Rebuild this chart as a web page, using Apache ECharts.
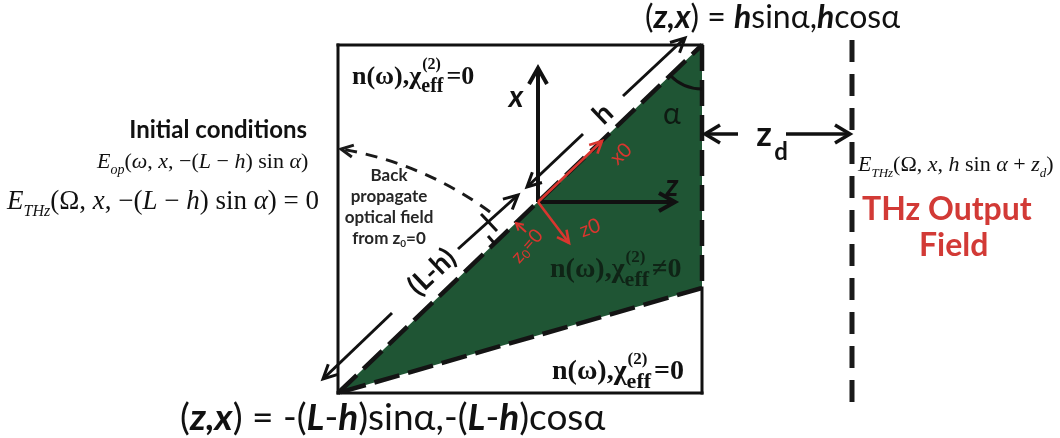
<!DOCTYPE html>
<html>
<head>
<meta charset="utf-8">
<script src="https://cdn.jsdelivr.net/npm/echarts@6/dist/echarts.min.js"></script>
<style>
  html, body { margin: 0; padding: 0; background: #ffffff; }
  #main { width: 1060px; height: 438px; }
</style>
</head>
<body>
<div id="main"></div>
<script>
// Drawing units: x to the right, y downward, one unit per pixel of the 1060 x 438 canvas.

// Nonlinear crystal (green wedge): bottom-left corner, apex, lower-right corner
const crystalCorners = [338, 393, 702, 45, 702, 288];
// Solid frame of the simulation window
const frameEdges = [
  [338, 45, 702, 45],
  [338, 45, 338, 393],
  [338, 393, 702, 393],
  [702, 288, 702, 393]
];
// Dashed boundaries of the crystal
const crystalEdges = [
  [338, 393, 702, 45],
  [702, 45, 702, 288],
  [702, 288, 338, 393]
];
// Dimension arrows, tail -> tip (pieces split where the labels sit)
const lengthArrows = [
  [392, 313, 323, 379],   // (L-h), lower piece
  [458, 249, 518, 195],   // (L-h), upper piece
  [583, 134, 527, 187],   // h, lower piece
  [623, 96, 685, 38]      // h, upper piece
];
const gapArrows = [
  [738, 134, 705, 134],   // z_d, left piece
  [786, 134, 850, 134]    // z_d, right piece
];
// Marks at z0 = 0 on the dimension line
const zeroTicks = [
  [481, 214, 497, 231],
  [488, 236, 495, 244]
];
// Lab frame axes (x up, z right) from the origin
const labAxes = [
  [538, 202, 538, 68],
  [538, 202, 675, 202]
];
// Rotated crystal axes and the z0 = 0 pointer
const crystalAxes = [
  [538, 202, 602, 141],
  [538, 202, 569, 243],
  [526, 232, 516, 223]
];
// Output plane at z = h sin(alpha) + z_d
const outputPlane = [852, 40, 852, 408];
// Back-propagation path: start, control point, end
const backPath = [490, 212, 423, 163, 341, 149];
// Wedge angle arc: centre x, centre y, radius, start and end angle (degrees, screen)
const wedgeArc = [702, 45, 44, 90, 136];

// Text content
const captionApex = '{p|(}{b|z,x}{p|) = }{b|h}{p|sinα,}{b|h}{p|cosα}';
const captionBase = '{p|(}{b|z,x}{p|) = -(}{b|L}{p|-}{b|h}{p|)sinα,-(}{b|L}{p|-}{b|h}{p|)cosα}';
const initialTitle = 'Initial conditions';
const opticalInit = '{i|E}{s|op}{r|(}{i|ω}{r|, }{i|x}{r|, −(}{i|L}{r| − }{i|h}{r|) sin }{i|α}{r|)}';
const thzInit = '{i|E}{s|THz}{r|(Ω, }{i|x}{r|, −(}{i|L}{r| − }{i|h}{r|) sin }{i|α}{r|) = 0}';
const thzOut = '{i|E}{s|THz}{r|(Ω, }{i|x}{r|, }{i|h}{r| sin }{i|α}{r| + }{i|z}{s|d}{r|)}';
const backNote = '{b|Back}\n{b|propagate}\n{b|optical field}\n{b|from z}{s|0}{b|=0}';
const outputTitle = ['THz Output', 'Field'];
const regionRel = ['=0', '≠0', '=0'];
const regionAnchors = [[352, 77], [550, 270], [552, 372]];

const SANS = 'Lato, "Open Sans", sans-serif';
const SERIF = '"Liberation Serif", "Times New Roman", serif';
const INK = '#111111';
const GREEN = '#1f5534';
const RED = '#d9362f';
const OUT_RED = '#d23a36';

const measureCtx = document.createElement('canvas').getContext('2d');
function textWidth(font, s) { measureCtx.font = font; return measureCtx.measureText(s).width; }

function segFromApi(api, off) {
  return [api.coord([api.value(off), api.value(off + 1)]), api.coord([api.value(off + 2), api.value(off + 3)])];
}
function lineEl(a, b, style) {
  return { type: 'line', shape: { x1: a[0], y1: a[1], x2: b[0], y2: b[1] }, style: style };
}
function chevron(tail, tip, len, half, style) {
  const dx = tip[0] - tail[0], dy = tip[1] - tail[1];
  const d = Math.hypot(dx, dy) || 1;
  const ux = dx / d, uy = dy / d;
  const bx = tip[0] - ux * len, by = tip[1] - uy * len;
  return {
    type: 'polyline',
    shape: { points: [[bx - uy * half, by + ux * half], [tip[0], tip[1]], [bx + uy * half, by - ux * half]] },
    style: Object.assign({ fill: null, lineJoin: 'miter' }, style)
  };
}
function arrowEl(api, style, len, half) {
  const [a, b] = segFromApi(api, 0);
  return { type: 'group', children: [lineEl(a, b, style), chevron(a, b, len, half, style)] };
}
function textEl(p, text, style, rotation) {
  return {
    type: 'text', x: p[0], y: p[1], rotation: rotation || 0,
    style: Object.assign({ text: text, align: 'left', verticalAlign: 'middle' }, style)
  };
}
function mathRich(size, subSize) {
  const lh = size + 8;
  return {
    i: { fontFamily: SERIF, fontStyle: 'italic', fontSize: size, lineHeight: lh, fill: INK },
    r: { fontFamily: SERIF, fontSize: size, lineHeight: lh, fill: INK },
    s: { fontFamily: SERIF, fontStyle: 'italic', fontSize: subSize, lineHeight: subSize, verticalAlign: 'bottom', fill: INK }
  };
}
function captionRich(size) {
  return {
    p: { fontFamily: SANS, fontSize: size, fill: INK, lineHeight: size + 4 },
    b: { fontFamily: SANS, fontSize: size, fontWeight: 'bold', fontStyle: 'italic', fill: INK, lineHeight: size + 4 }
  };
}
// "n(ω),χ_eff^(2) =0" with the superscript stacked over the subscript
function regionLabel(p, rel, color, size) {
  const mainFont = 'bold ' + size + 'px ' + SERIF;
  const effFont = 'bold ' + Math.round(size * 0.78) + 'px ' + SERIF;
  const supFont = 'bold ' + Math.round(size * 0.62) + 'px ' + SERIF;
  const w = textWidth(mainFont, 'n(ω),χ');
  const we = textWidth(effFont, 'eff');
  return [
    textEl(p, 'n(ω),χ', { font: mainFont, fill: color }),
    textEl([p[0] + w + 1, p[1] - size * 0.45], '(2)', { font: supFont, fill: color }),
    textEl([p[0] + w, p[1] + size * 0.38], 'eff', { font: effFont, fill: color }),
    textEl([p[0] + w + we + 3, p[1]], rel, { font: mainFont, fill: color })
  ];
}
function custom(name, data, z, renderItem) {
  return { name: name, type: 'custom', coordinateSystem: 'cartesian2d', data: data, z: z,
           silent: true, clip: false, renderItem: renderItem };
}

const series = [
  // Crystal wedge
  custom('crystal', [crystalCorners], 1, function (params, api) {
    const pts = [0, 2, 4].map(k => api.coord([api.value(k), api.value(k + 1)]));
    return { type: 'polygon', shape: { points: pts }, style: { fill: GREEN } };
  }),
  // Frame
  custom('frame', frameEdges, 2, function (params, api) {
    const [a, b] = segFromApi(api, 0);
    return lineEl(a, b, { stroke: INK, lineWidth: 3, lineCap: 'square' });
  }),
  // Dashed crystal boundaries
  custom('crystalEdges', crystalEdges, 3, function (params, api) {
    const [a, b] = segFromApi(api, 0);
    return lineEl(a, b, { stroke: '#141414', lineWidth: 4.5, lineDash: [26, 9] });
  }),
  // Dimension arrows (L-h) and h
  custom('lengths', lengthArrows, 4, function (params, api) {
    return arrowEl(api, { stroke: INK, lineWidth: 3 }, 14, 7);
  }),
  custom('zeroTicks', zeroTicks, 4, function (params, api) {
    const [a, b] = segFromApi(api, 0);
    return lineEl(a, b, { stroke: INK, lineWidth: 3 });
  }),
  // z_d gap arrows
  custom('gap', gapArrows, 4, function (params, api) {
    return arrowEl(api, { stroke: INK, lineWidth: 3.5 }, 15, 9);
  }),
  // Lab axes
  custom('labAxes', labAxes, 5, function (params, api) {
    return arrowEl(api, { stroke: INK, lineWidth: 4 }, 16, 9);
  }),
  // Crystal axes
  custom('crystalAxes', crystalAxes, 6, function (params, api) {
    const small = params.dataIndex === 2;
    return arrowEl(api, { stroke: RED, lineWidth: small ? 2 : 2.6 }, small ? 7 : 12, small ? 4 : 6);
  }),
  // Output plane
  custom('outputPlane', [outputPlane], 4, function (params, api) {
    const [a, b] = segFromApi(api, 0);
    return lineEl(a, b, { stroke: '#1a1a1a', lineWidth: 5, lineDash: [22, 12] });
  }),
  // Back-propagation path
  custom('backPath', [backPath], 4, function (params, api) {
    const s = api.coord([api.value(0), api.value(1)]);
    const c = api.coord([api.value(2), api.value(3)]);
    const e = api.coord([api.value(4), api.value(5)]);
    return { type: 'group', children: [
      { type: 'bezierCurve', shape: { x1: s[0], y1: s[1], cpx1: c[0], cpy1: c[1], x2: e[0], y2: e[1] },
        style: { stroke: '#1a1a1a', lineWidth: 3, fill: null, lineDash: [12, 9] } },
      chevron(c, e, 12, 6, { stroke: '#1a1a1a', lineWidth: 3 })
    ] };
  }),
  // Wedge angle
  custom('wedgeArc', [wedgeArc], 5, function (params, api) {
    const c = api.coord([api.value(0), api.value(1)]);
    return { type: 'arc', shape: { cx: c[0], cy: c[1], r: api.value(2),
      startAngle: api.value(3) * Math.PI / 180, endAngle: api.value(4) * Math.PI / 180, clockwise: true },
      style: { stroke: INK, lineWidth: 3, fill: null } };
  }),
  // Text
  custom('labels', [[0, 0]], 10, function (params, api) {
    const at = (x, y) => api.coord([x, y]);
    const rot = 43.3 * Math.PI / 180;
    const kids = [
      textEl(at(645, 18), captionApex, { rich: captionRich(32) }),
      textEl(at(180, 418), captionBase, { rich: captionRich(37) }),
      textEl(at(307, 130), initialTitle, { font: 'bold 24px ' + SANS, fill: INK, align: 'right' }),
      textEl(at(97, 162), opticalInit, { rich: mathRich(22, 14) }),
      textEl(at(7, 202), thzInit, { rich: mathRich(27, 16) }),
      textEl(at(858, 165), thzOut, { rich: mathRich(22, 13) }),
      textEl(at(389, 207), backNote, { align: 'center', rich: {
        b: { fontFamily: SANS, fontWeight: 'bold', fontSize: 17, lineHeight: 21, fill: '#262626' },
        s: { fontFamily: SANS, fontWeight: 'bold', fontSize: 10, lineHeight: 10, verticalAlign: 'bottom', fill: '#262626' }
      } }),
      textEl(at(862, 210), outputTitle[0], { font: 'bold 32px ' + SANS, fill: OUT_RED }),
      textEl(at(919, 246), outputTitle[1], { font: 'bold 32px ' + SANS, fill: OUT_RED }),
      textEl(at(432, 272), '(L-h)', { font: 'bold 28px ' + SANS, fill: INK, align: 'center' }, rot),
      textEl(at(603, 114), 'h', { font: 'bold 28px ' + SANS, fill: INK, align: 'center' }, rot),
      textEl(at(516, 97), 'x', { font: 'italic bold 30px ' + SANS, fill: INK, align: 'center' }),
      textEl(at(672, 186), 'z', { font: 'italic bold 30px ' + SANS, fill: INK, align: 'center' }),
      textEl(at(672, 114), 'α', { font: '30px ' + SANS, fill: '#0e1a12', align: 'center' }),
      textEl(at(764, 135), 'z', { font: 'bold 34px ' + SANS, fill: INK, align: 'center' }),
      textEl(at(781, 152), 'd', { font: 'bold 24px ' + SANS, fill: INK, align: 'center' }),
      textEl(at(621, 154), 'x0', { font: '20px ' + SANS, fill: RED, align: 'center' }, 0.75),
      textEl(at(590, 228), 'z0', { font: '20px ' + SANS, fill: RED, align: 'center' }, 0.35),
      textEl(at(527, 246), '{a|z}{b|0}{a|=0}', { align: 'center', rich: {
        a: { fontFamily: SANS, fontSize: 19, lineHeight: 22, fill: RED },
        b: { fontFamily: SANS, fontSize: 12, lineHeight: 12, verticalAlign: 'bottom', fill: RED }
      } }, 0.85)
    ];
    const sizes = [26, 28, 28];
    regionAnchors.forEach((p, k) => {
      const color = k === 1 ? '#0f2416' : INK;
      regionLabel(at(p[0], p[1]), regionRel[k], color, sizes[k]).forEach(el => kids.push(el));
    });
    return { type: 'group', children: kids };
  })
];

const chart = echarts.init(document.getElementById('main'), null, { renderer: 'canvas' });
chart.setOption({
  animation: false,
  backgroundColor: '#ffffff',
  grid: { left: 0, right: 0, top: 0, bottom: 0 },
  xAxis: { type: 'value', min: 0, max: 1060, show: false },
  yAxis: { type: 'value', min: 0, max: 438, inverse: true, show: false },
  series: series
});
</script>
</body>
</html>
